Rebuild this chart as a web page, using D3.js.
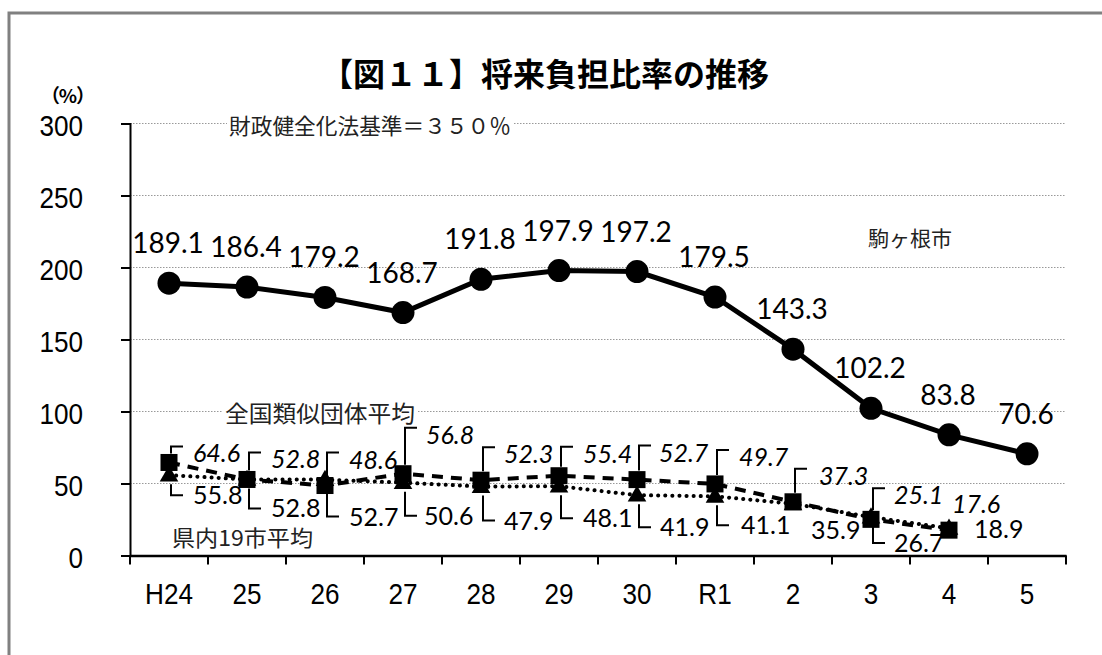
<!DOCTYPE html>
<html><head><meta charset="utf-8">
<script src="https://cdn.jsdelivr.net/npm/d3@7"></script>
<style>body{margin:0;background:#fff;} svg{display:block}</style>
</head><body>
<svg id="c" width="1102" height="655"></svg>
<script>
// ---- data ----
const categories = ["H24","25","26","27","28","29","30","R1","2","3","4","5"];
const komagane = [189.1,186.4,179.2,168.7,191.8,197.9,197.2,179.5,143.3,102.2,83.8,70.6];
const national = [64.6,52.8,48.6,56.8,52.3,55.4,52.7,49.7,37.3,25.1,17.6];
const prefecture = [55.8,52.8,52.7,50.6,47.9,48.1,41.9,41.1,35.9,26.7,18.9];
const yTicks = [0,50,100,150,200,250,300];
const titleText = "【図１１】将来負担比率の推移";
const seriesNames = ["駒ヶ根市","全国類似団体平均","県内19市平均"];
const refText = "財政健全化法基準＝３５０％";

// ---- layout (label offsets in px relative to marker) ----
const natLabel = [[24,0,1],[24,-11,1],[24,-17,1],[23,-30,1],[23,-17,1],[24,-13,1],[22,-18,1],[24,-18,1],[26,-17,1],[23,-15,1],[3,-17,0]];
const prefLabel = [[24,29,1],[24,38,1],[24,46,1],[21,42,1],[23,43,1],[24,41,1],[23,41,1],[26,38,1],[18,35,0],[23,35,1],[25,10,0]];

const svg = d3.select("#c");
const x = d3.scaleBand().domain(categories).range([130,1066]);
const y = d3.scaleLinear().domain([0,300]).range([555.5,123.5]);
const cx = i => x(categories[i]) + x.bandwidth()/2;
const squeeze = (sel, f) => sel.each(function(){ const w=this.getComputedTextLength(); d3.select(this).attr("textLength",w*f).attr("lengthAdjust","spacingAndGlyphs"); });

// border
svg.append("path").attr("d","M9,660 V13 H1110").attr("fill","none").attr("stroke","#808080").attr("stroke-width",3);

// title
svg.append("text").attr("x",545).attr("y",72).attr("text-anchor","middle").attr("dominant-baseline","central")
  .attr("font-family","'Noto Sans CJK JP'").attr("font-weight","bold").attr("font-size",32).text(titleText);
svg.append("text").attr("x",41).attr("y",94).attr("dominant-baseline","central")
  .attr("font-family","'Noto Sans CJK JP'").attr("font-weight","bold").attr("font-size",19)
  .attr("textLength",54).attr("lengthAdjust","spacing").text("（%）");

// grid
svg.append("g").selectAll("line").data(yTicks.filter(d=>d>0)).join("line")
  .attr("x1",130).attr("x2",1066).attr("y1",d=>y(d)).attr("y2",d=>y(d))
  .attr("stroke","#999").attr("stroke-width",1.2).attr("stroke-dasharray","1.5,1.5");

// y axis
const ya = svg.append("g").attr("transform","translate(130,0)").call(d3.axisLeft(y).tickValues(yTicks).tickSize(9).tickPadding(38));
ya.select(".domain").attr("stroke","#000").attr("stroke-width",2);
ya.selectAll(".tick line").attr("stroke","#000").attr("stroke-width",2);
ya.selectAll(".tick text").attr("font-family","'Liberation Sans',Arial").attr("font-size",29).attr("fill","#000")
  .attr("text-anchor","end").attr("dy","0.4em");
squeeze(ya.selectAll(".tick text"), 0.9);

// x axis
const xa = svg.append("g").attr("transform","translate(0,555.5)").call(d3.axisBottom(x).tickSize(0).tickPadding(28));
xa.select(".domain").attr("stroke","#000").attr("stroke-width",2.5);
xa.selectAll(".tick text").attr("font-family","'Liberation Sans',Arial").attr("font-size",29).attr("fill","#000");
squeeze(xa.selectAll(".tick text"), 0.9);
const bounds = categories.map(c=>x(c)).concat([x.range()[1]]);
xa.append("g").selectAll("line").data(bounds).join("line")
  .attr("x1",d=>d).attr("x2",d=>d).attr("y1",0).attr("y2",9).attr("stroke","#000").attr("stroke-width",2);

// annotation texts with white backgrounds
function note(txt, xx, yy, size, w){
  const g = svg.append("g");
  const t = g.append("text").attr("x",xx).attr("y",yy).attr("dominant-baseline","central")
    .attr("font-family","'Noto Sans CJK JP'").attr("font-size",size).attr("fill","#222").text(txt);
  if(w) t.attr("textLength",w).attr("lengthAdjust","spacingAndGlyphs");
  const b = t.node().getBBox();
  g.insert("rect","text").attr("x",b.x-2).attr("y",b.y+3).attr("width",b.width+4).attr("height",b.height-6).attr("fill","#fff");
}
note(refText, 229, y(300), 22, 282);
note(seriesNames[0], 868, 237, 21, 84);
note(seriesNames[1], 225, y(100), 23, 190);
note(seriesNames[2], 172, 536, 22, 141);

// lines
const line = d3.line().x((d,i)=>cx(i)).y(d=>y(d));
svg.append("path").datum(prefecture).attr("d",line).attr("fill","none").attr("stroke","#000")
  .attr("stroke-width",4).attr("stroke-linecap","round").attr("stroke-dasharray","0.1,7");
svg.append("path").datum(national).attr("d",line).attr("fill","none").attr("stroke","#000")
  .attr("stroke-width",4).attr("stroke-dasharray","11,8");
svg.append("path").datum(komagane).attr("d",line).attr("fill","none").attr("stroke","#000")
  .attr("stroke-width",5);

// markers
svg.append("g").selectAll("path").data(prefecture).join("path")
  .attr("d",d3.symbol().type(d3.symbolTriangle).size(150)).attr("transform",(d,i)=>`translate(${cx(i)},${y(d)+1})`).attr("fill","#000");
svg.append("g").selectAll("rect").data(national).join("rect")
  .attr("x",(d,i)=>cx(i)-8.5).attr("y",d=>y(d)-8.5).attr("width",17).attr("height",17).attr("fill","#000");
svg.append("g").selectAll("circle").data(komagane).join("circle")
  .attr("cx",(d,i)=>cx(i)).attr("cy",d=>y(d)).attr("r",11.5).attr("fill","#000");

// komagane labels
svg.append("g").selectAll("text").data(komagane).join("text")
  .attr("x",(d,i)=>cx(i)-1).attr("y",d=>y(d)-30).attr("text-anchor","middle")
  .attr("font-family","Lato,'Open Sans',sans-serif").attr("font-size",28).text(d=>d.toFixed(1));

// national labels (italic, above)
const ng = svg.append("g");
national.forEach((d,i)=>{
  const [dx,dy,ld] = natLabel[i];
  const mx = cx(i), my = y(d), by = my+dy;
  ng.append("text").attr("x",mx+dx).attr("y",by).attr("font-family","Lato,'Open Sans',sans-serif")
    .attr("font-style","italic").attr("font-size",25).text(d.toFixed(1));
  if(ld){
    const top = Math.min(by-16, my-9);
    ng.append("path").attr("d",`M${mx+2},${my-9}V${top}H${mx+14}`).attr("fill","none").attr("stroke","#000").attr("stroke-width",2);
  }
});
// prefecture labels (below)
const pg = svg.append("g");
prefecture.forEach((d,i)=>{
  const [dx,dy,ld] = prefLabel[i];
  const mx = cx(i), my = y(d), by = my+dy;
  pg.append("text").attr("x",mx+dx).attr("y",by).attr("font-family","Lato,'Open Sans',sans-serif")
    .attr("font-size",25).text(d.toFixed(1));
  if(ld){
    const bot = Math.max(by-9, my+9);
    pg.append("path").attr("d",`M${mx+2},${my+9}V${bot}H${mx+14}`).attr("fill","none").attr("stroke","#000").attr("stroke-width",2);
  }
});
</script>
</body></html>
